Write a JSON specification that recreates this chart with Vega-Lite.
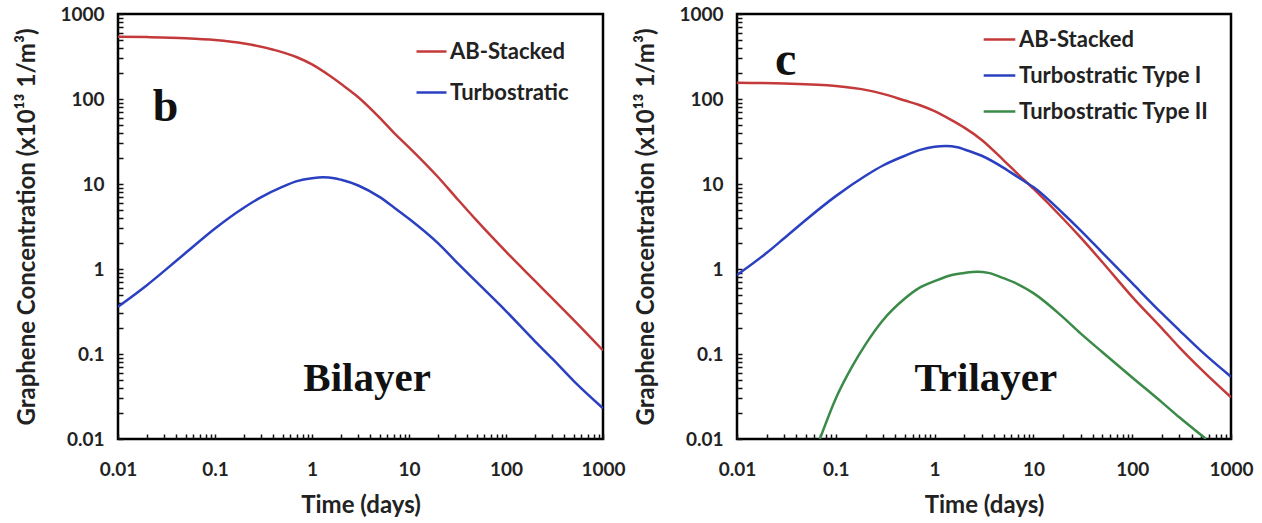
{
  "$schema": "https://vega.github.io/schema/vega-lite/v6.json",
  "autosize": {"type": "pad"},
  "padding": {"left": 14, "top": 3, "right": 0, "bottom": 0},
  "background": "white",
  "config": {
    "view": {"stroke": "black", "strokeWidth": 2.5},
    "concat": {"spacing": 6},
    "axis": {
      "domain": false, "grid": false, "zindex": 1,
      "labelFont": "Lato", "labelFontWeight": "bold", "labelFontSize": 19, "labelColor": "#222",
      "titleFont": "Lato", "titleFontWeight": "bold", "titleFontSize": 24, "titleColor": "#222",
      "tickColor": "#111", "tickWidth": 1.5, "tickSize": 5, "offset": -5
    },
    "legend": {
      "orient": "none", "title": null, "symbolType": "stroke", "symbolStrokeWidth": 2.5,
      "labelFont": "Lato", "labelFontWeight": "bold", "labelFontSize": 22, "labelColor": "#222",
      "padding": 0, "labelOffset": 2, "labelLimit": 400
    }
  },
  "datasets": {
    "curves": [
      {"panel": "b", "series": "AB-Stacked", "t": 0.01, "c": 540},
      {"panel": "b", "series": "AB-Stacked", "t": 0.02, "c": 535},
      {"panel": "b", "series": "AB-Stacked", "t": 0.05, "c": 520},
      {"panel": "b", "series": "AB-Stacked", "t": 0.1, "c": 495},
      {"panel": "b", "series": "AB-Stacked", "t": 0.2, "c": 450},
      {"panel": "b", "series": "AB-Stacked", "t": 0.4, "c": 380},
      {"panel": "b", "series": "AB-Stacked", "t": 0.7, "c": 310},
      {"panel": "b", "series": "AB-Stacked", "t": 1, "c": 255},
      {"panel": "b", "series": "AB-Stacked", "t": 1.5, "c": 190},
      {"panel": "b", "series": "AB-Stacked", "t": 2, "c": 150},
      {"panel": "b", "series": "AB-Stacked", "t": 3, "c": 105},
      {"panel": "b", "series": "AB-Stacked", "t": 5, "c": 60},
      {"panel": "b", "series": "AB-Stacked", "t": 7, "c": 40},
      {"panel": "b", "series": "AB-Stacked", "t": 10, "c": 27},
      {"panel": "b", "series": "AB-Stacked", "t": 20, "c": 12},
      {"panel": "b", "series": "AB-Stacked", "t": 30, "c": 7.1},
      {"panel": "b", "series": "AB-Stacked", "t": 50, "c": 3.7},
      {"panel": "b", "series": "AB-Stacked", "t": 100, "c": 1.6},
      {"panel": "b", "series": "AB-Stacked", "t": 200, "c": 0.72},
      {"panel": "b", "series": "AB-Stacked", "t": 300, "c": 0.45},
      {"panel": "b", "series": "AB-Stacked", "t": 500, "c": 0.25},
      {"panel": "b", "series": "AB-Stacked", "t": 1000, "c": 0.11},

      {"panel": "b", "series": "Turbostratic", "t": 0.01, "c": 0.36},
      {"panel": "b", "series": "Turbostratic", "t": 0.02, "c": 0.65},
      {"panel": "b", "series": "Turbostratic", "t": 0.03, "c": 0.95},
      {"panel": "b", "series": "Turbostratic", "t": 0.05, "c": 1.55},
      {"panel": "b", "series": "Turbostratic", "t": 0.1, "c": 3.0},
      {"panel": "b", "series": "Turbostratic", "t": 0.2, "c": 5.3},
      {"panel": "b", "series": "Turbostratic", "t": 0.3, "c": 7.0},
      {"panel": "b", "series": "Turbostratic", "t": 0.5, "c": 9.3},
      {"panel": "b", "series": "Turbostratic", "t": 0.7, "c": 10.8},
      {"panel": "b", "series": "Turbostratic", "t": 1, "c": 11.7},
      {"panel": "b", "series": "Turbostratic", "t": 1.3, "c": 12},
      {"panel": "b", "series": "Turbostratic", "t": 1.7, "c": 11.7},
      {"panel": "b", "series": "Turbostratic", "t": 2, "c": 11.2},
      {"panel": "b", "series": "Turbostratic", "t": 3, "c": 9.6},
      {"panel": "b", "series": "Turbostratic", "t": 5, "c": 7.0},
      {"panel": "b", "series": "Turbostratic", "t": 7, "c": 5.3},
      {"panel": "b", "series": "Turbostratic", "t": 10, "c": 3.9},
      {"panel": "b", "series": "Turbostratic", "t": 20, "c": 2.0},
      {"panel": "b", "series": "Turbostratic", "t": 30, "c": 1.25},
      {"panel": "b", "series": "Turbostratic", "t": 50, "c": 0.7},
      {"panel": "b", "series": "Turbostratic", "t": 100, "c": 0.32},
      {"panel": "b", "series": "Turbostratic", "t": 200, "c": 0.14},
      {"panel": "b", "series": "Turbostratic", "t": 300, "c": 0.088},
      {"panel": "b", "series": "Turbostratic", "t": 500, "c": 0.048},
      {"panel": "b", "series": "Turbostratic", "t": 1000, "c": 0.023},

      {"panel": "c", "series": "AB-Stacked", "t": 0.01, "c": 155},
      {"panel": "c", "series": "AB-Stacked", "t": 0.03, "c": 152},
      {"panel": "c", "series": "AB-Stacked", "t": 0.1, "c": 142},
      {"panel": "c", "series": "AB-Stacked", "t": 0.2, "c": 128},
      {"panel": "c", "series": "AB-Stacked", "t": 0.3, "c": 115},
      {"panel": "c", "series": "AB-Stacked", "t": 0.5, "c": 96},
      {"panel": "c", "series": "AB-Stacked", "t": 0.7, "c": 85},
      {"panel": "c", "series": "AB-Stacked", "t": 1, "c": 72},
      {"panel": "c", "series": "AB-Stacked", "t": 1.5, "c": 56},
      {"panel": "c", "series": "AB-Stacked", "t": 2, "c": 46},
      {"panel": "c", "series": "AB-Stacked", "t": 3, "c": 33},
      {"panel": "c", "series": "AB-Stacked", "t": 5, "c": 19},
      {"panel": "c", "series": "AB-Stacked", "t": 7, "c": 13},
      {"panel": "c", "series": "AB-Stacked", "t": 10, "c": 8.8},
      {"panel": "c", "series": "AB-Stacked", "t": 20, "c": 3.9},
      {"panel": "c", "series": "AB-Stacked", "t": 30, "c": 2.35},
      {"panel": "c", "series": "AB-Stacked", "t": 50, "c": 1.2},
      {"panel": "c", "series": "AB-Stacked", "t": 100, "c": 0.47},
      {"panel": "c", "series": "AB-Stacked", "t": 200, "c": 0.2},
      {"panel": "c", "series": "AB-Stacked", "t": 300, "c": 0.12},
      {"panel": "c", "series": "AB-Stacked", "t": 500, "c": 0.066},
      {"panel": "c", "series": "AB-Stacked", "t": 1000, "c": 0.031},

      {"panel": "c", "series": "Turbostratic Type I", "t": 0.01, "c": 0.85},
      {"panel": "c", "series": "Turbostratic Type I", "t": 0.02, "c": 1.55},
      {"panel": "c", "series": "Turbostratic Type I", "t": 0.03, "c": 2.3},
      {"panel": "c", "series": "Turbostratic Type I", "t": 0.05, "c": 3.8},
      {"panel": "c", "series": "Turbostratic Type I", "t": 0.1, "c": 7.2},
      {"panel": "c", "series": "Turbostratic Type I", "t": 0.2, "c": 12.5},
      {"panel": "c", "series": "Turbostratic Type I", "t": 0.3, "c": 16.5},
      {"panel": "c", "series": "Turbostratic Type I", "t": 0.5, "c": 21.5},
      {"panel": "c", "series": "Turbostratic Type I", "t": 0.7, "c": 25},
      {"panel": "c", "series": "Turbostratic Type I", "t": 1, "c": 27.5},
      {"panel": "c", "series": "Turbostratic Type I", "t": 1.3, "c": 28},
      {"panel": "c", "series": "Turbostratic Type I", "t": 1.7, "c": 27},
      {"panel": "c", "series": "Turbostratic Type I", "t": 2, "c": 25.5},
      {"panel": "c", "series": "Turbostratic Type I", "t": 3, "c": 21.5},
      {"panel": "c", "series": "Turbostratic Type I", "t": 5, "c": 15.5},
      {"panel": "c", "series": "Turbostratic Type I", "t": 7, "c": 12},
      {"panel": "c", "series": "Turbostratic Type I", "t": 10, "c": 9.2},
      {"panel": "c", "series": "Turbostratic Type I", "t": 20, "c": 4.5},
      {"panel": "c", "series": "Turbostratic Type I", "t": 30, "c": 2.85},
      {"panel": "c", "series": "Turbostratic Type I", "t": 50, "c": 1.55},
      {"panel": "c", "series": "Turbostratic Type I", "t": 100, "c": 0.68},
      {"panel": "c", "series": "Turbostratic Type I", "t": 200, "c": 0.3},
      {"panel": "c", "series": "Turbostratic Type I", "t": 300, "c": 0.19},
      {"panel": "c", "series": "Turbostratic Type I", "t": 500, "c": 0.108},
      {"panel": "c", "series": "Turbostratic Type I", "t": 1000, "c": 0.054},

      {"panel": "c", "series": "Turbostratic Type II", "t": 0.069, "c": 0.01},
      {"panel": "c", "series": "Turbostratic Type II", "t": 0.1, "c": 0.03},
      {"panel": "c", "series": "Turbostratic Type II", "t": 0.15, "c": 0.075},
      {"panel": "c", "series": "Turbostratic Type II", "t": 0.2, "c": 0.13},
      {"panel": "c", "series": "Turbostratic Type II", "t": 0.3, "c": 0.25},
      {"panel": "c", "series": "Turbostratic Type II", "t": 0.5, "c": 0.45},
      {"panel": "c", "series": "Turbostratic Type II", "t": 0.7, "c": 0.6},
      {"panel": "c", "series": "Turbostratic Type II", "t": 1, "c": 0.72},
      {"panel": "c", "series": "Turbostratic Type II", "t": 1.5, "c": 0.85},
      {"panel": "c", "series": "Turbostratic Type II", "t": 2, "c": 0.9},
      {"panel": "c", "series": "Turbostratic Type II", "t": 2.7, "c": 0.93},
      {"panel": "c", "series": "Turbostratic Type II", "t": 3.5, "c": 0.9},
      {"panel": "c", "series": "Turbostratic Type II", "t": 5, "c": 0.78},
      {"panel": "c", "series": "Turbostratic Type II", "t": 7, "c": 0.66},
      {"panel": "c", "series": "Turbostratic Type II", "t": 10, "c": 0.52},
      {"panel": "c", "series": "Turbostratic Type II", "t": 20, "c": 0.27},
      {"panel": "c", "series": "Turbostratic Type II", "t": 30, "c": 0.175},
      {"panel": "c", "series": "Turbostratic Type II", "t": 50, "c": 0.105},
      {"panel": "c", "series": "Turbostratic Type II", "t": 100, "c": 0.053},
      {"panel": "c", "series": "Turbostratic Type II", "t": 200, "c": 0.027},
      {"panel": "c", "series": "Turbostratic Type II", "t": 300, "c": 0.018},
      {"panel": "c", "series": "Turbostratic Type II", "t": 560, "c": 0.01}
    ],
    "notes": [
      {"panel": "b", "kind": "letter", "label": "b", "t": 0.031, "c": 55},
      {"panel": "b", "kind": "name", "label": "Bilayer", "t": 3.7, "c": 0.037},
      {"panel": "c", "kind": "letter", "label": "c", "t": 0.031, "c": 190},
      {"panel": "c", "kind": "name", "label": "Trilayer", "t": 3.3, "c": 0.037}
    ]
  },
  "hconcat": [
    {
      "width": 485, "height": 425,
      "layer": [
        {
          "data": {"name": "curves"},
          "transform": [{"filter": "datum.panel == 'b'"}],
          "mark": {"type": "line", "strokeWidth": 2.5, "clip": true, "interpolate": "monotone"},
          "encoding": {
            "x": {"field": "t", "type": "quantitative", "title": "Time (days)",
              "scale": {"type": "log", "domain": [0.01, 1000]},
              "axis": {"values": [0.01,0.02,0.03,0.04,0.05,0.06,0.07,0.08,0.09,0.1,0.2,0.3,0.4,0.5,0.6,0.7,0.8,0.9,1,2,3,4,5,6,7,8,9,10,20,30,40,50,60,70,80,90,100,200,300,400,500,600,700,800,900,1000],
                "format": "~g", "labelExpr": "indexof([0.01,0.1,1,10,100,1000], datum.value) >= 0 ? datum.label : ''",
                "labelPadding": 21, "titlePadding": 14, "labelFlush": false}},
            "y": {"field": "c", "type": "quantitative", "title": "Graphene Concentration (x10¹³ 1/m³)",
              "scale": {"type": "log", "domain": [0.01, 1000]},
              "axis": {"values": [0.01,0.02,0.03,0.04,0.05,0.06,0.07,0.08,0.09,0.1,0.2,0.3,0.4,0.5,0.6,0.7,0.8,0.9,1,2,3,4,5,6,7,8,9,10,20,30,40,50,60,70,80,90,100,200,300,400,500,600,700,800,900,1000],
                "format": "~g", "labelExpr": "indexof([0.01,0.1,1,10,100,1000], datum.value) >= 0 ? datum.label : ''",
                "labelPadding": 14, "titlePadding": 20, "labelFlush": false}},
            "color": {"field": "series", "type": "nominal",
              "scale": {"domain": ["AB-Stacked", "Turbostratic"], "range": ["#c43a3a", "#2b40c0"]},
              "legend": {"legendX": 297, "legendY": 21, "symbolSize": 900, "rowPadding": 13}}
          }
        },
        {
          "data": {"name": "notes"},
          "transform": [{"filter": "datum.panel == 'b' && datum.kind == 'letter'"}],
          "mark": {"type": "text", "font": "Liberation Serif", "fontWeight": "bold", "fontSize": 46, "baseline": "alphabetic", "color": "#111"},
          "encoding": {"x": {"field": "t", "type": "quantitative"}, "y": {"field": "c", "type": "quantitative"}, "text": {"field": "label"}}
        },
        {
          "data": {"name": "notes"},
          "transform": [{"filter": "datum.panel == 'b' && datum.kind == 'name'"}],
          "mark": {"type": "text", "font": "Liberation Serif", "fontWeight": "bold", "fontSize": 41, "baseline": "alphabetic", "color": "#111"},
          "encoding": {"x": {"field": "t", "type": "quantitative"}, "y": {"field": "c", "type": "quantitative"}, "text": {"field": "label"}}
        }
      ]
    },
    {
      "width": 494, "height": 425,
      "layer": [
        {
          "data": {"name": "curves"},
          "transform": [{"filter": "datum.panel == 'c'"}],
          "mark": {"type": "line", "strokeWidth": 2.5, "clip": true, "interpolate": "monotone"},
          "encoding": {
            "x": {"field": "t", "type": "quantitative", "title": "Time (days)",
              "scale": {"type": "log", "domain": [0.01, 1000]},
              "axis": {"values": [0.01,0.02,0.03,0.04,0.05,0.06,0.07,0.08,0.09,0.1,0.2,0.3,0.4,0.5,0.6,0.7,0.8,0.9,1,2,3,4,5,6,7,8,9,10,20,30,40,50,60,70,80,90,100,200,300,400,500,600,700,800,900,1000],
                "format": "~g", "labelExpr": "indexof([0.01,0.1,1,10,100,1000], datum.value) >= 0 ? datum.label : ''",
                "labelPadding": 21, "titlePadding": 14, "labelFlush": false}},
            "y": {"field": "c", "type": "quantitative", "title": "Graphene Concentration (x10¹³ 1/m³)",
              "scale": {"type": "log", "domain": [0.01, 1000]},
              "axis": {"values": [0.01,0.02,0.03,0.04,0.05,0.06,0.07,0.08,0.09,0.1,0.2,0.3,0.4,0.5,0.6,0.7,0.8,0.9,1,2,3,4,5,6,7,8,9,10,20,30,40,50,60,70,80,90,100,200,300,400,500,600,700,800,900,1000],
                "format": "~g", "labelExpr": "indexof([0.01,0.1,1,10,100,1000], datum.value) >= 0 ? datum.label : ''",
                "labelPadding": 14, "titlePadding": 20, "labelFlush": false}},
            "color": {"field": "series", "type": "nominal",
              "scale": {"domain": ["AB-Stacked", "Turbostratic Type I", "Turbostratic Type II"], "range": ["#c43a3a", "#2b40c0", "#3a8a48"]},
              "legend": {"legendX": 245, "legendY": 8, "symbolSize": 1000, "rowPadding": 7}}
          }
        },
        {
          "data": {"name": "notes"},
          "transform": [{"filter": "datum.panel == 'c' && datum.kind == 'letter'"}],
          "mark": {"type": "text", "font": "Liberation Serif", "fontWeight": "bold", "fontSize": 48, "baseline": "alphabetic", "color": "#111"},
          "encoding": {"x": {"field": "t", "type": "quantitative"}, "y": {"field": "c", "type": "quantitative"}, "text": {"field": "label"}}
        },
        {
          "data": {"name": "notes"},
          "transform": [{"filter": "datum.panel == 'c' && datum.kind == 'name'"}],
          "mark": {"type": "text", "font": "Liberation Serif", "fontWeight": "bold", "fontSize": 41, "baseline": "alphabetic", "color": "#111"},
          "encoding": {"x": {"field": "t", "type": "quantitative"}, "y": {"field": "c", "type": "quantitative"}, "text": {"field": "label"}}
        }
      ],
      "resolve": {"scale": {"color": "independent"}}
    }
  ],
  "resolve": {"scale": {"color": "independent"}}
}
